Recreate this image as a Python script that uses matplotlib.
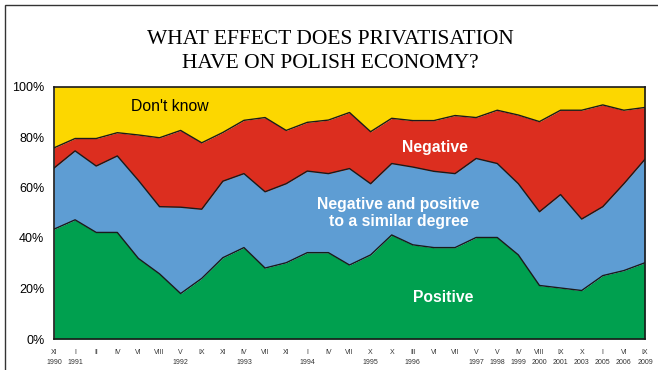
import matplotlib.pyplot as plt
import numpy as np
from matplotlib.patches import Rectangle

months = ['XI', 'I', 'II', 'IV', 'VI', 'VIII', 'V', 'IX', 'XI', 'IV', 'VII', 'XI', 'I', 'IV', 'VII',
          'X', 'X', 'III', 'VI', 'VII', 'V', 'V', 'IV', 'VIII', 'IX', 'X', 'I', 'VI', 'IX']
years = ['1990', '1991', '', '', '', '', '1992', '', '', '1993', '', '', '1994', '', '',
         '1995', '', '1996', '', '', '1997', '1998', '1999', '2000', '2001', '2003', '2005', '2006', '2009']

positive = [43.5, 47.2, 42.2, 42.2, 31.9, 25.8, 18.0, 24.0, 32.2, 36.2, 28.1, 30.2, 34.2, 34.2, 29.3,
            33.3, 41.2, 37.3, 36.2, 36.2, 40.2, 40.2, 33.3, 21.2, 20.2, 19.2, 25.1, 27.1, 30.2]
# cumulative top of "negative and positive" band
mixed_top = [67.7, 74.5, 68.5, 72.5, 62.8, 52.4, 52.2, 51.4, 62.5, 65.5, 58.3, 61.5, 66.5, 65.5, 67.5,
             61.5, 69.5, 68.1, 66.4, 65.5, 71.5, 69.5, 61.5, 50.4, 57.2, 47.5, 52.4, 61.5, 71.2]
# cumulative top of "negative" band
negative_top = [75.7, 79.4, 79.4, 81.7, 80.8, 79.7, 82.6, 77.7, 81.8, 86.6, 87.7, 82.6, 85.8, 86.7, 89.7,
                82.1, 87.4, 86.5, 86.5, 88.5, 87.7, 90.6, 88.7, 86.1, 90.6, 90.6, 92.7, 90.6, 91.7]

green = '#00A04F'
blue = '#5E9DD3'
red = '#DC2E1F'
yellow = '#FCD700'

x = np.arange(len(months))
zero = np.zeros(len(x))
hundred = np.full(len(x), 100.0)

fig = plt.figure(figsize=(6.58, 3.70), dpi=100)
ax = fig.add_axes([54/658, 1-339/370, (645-54)/658, (339-86.5)/370])

ax.fill_between(x, zero, positive, color=green, lw=0)
ax.fill_between(x, positive, mixed_top, color=blue, lw=0)
ax.fill_between(x, mixed_top, negative_top, color=red, lw=0)
ax.fill_between(x, negative_top, hundred, color=yellow, lw=0)
for line in [positive, mixed_top, negative_top]:
    ax.plot(x, line, color='#1a1a1a', lw=1)

sans = 'Liberation Sans'
ax.set_xlim(0, len(x) - 1)
ax.set_ylim(0, 100)
ax.set_yticks([0, 20, 40, 60, 80, 100])
ax.set_yticklabels(['0%', '20%', '40%', '60%', '80%', '100%'], fontsize=9, family=sans)
ax.set_xticks(x)
ax.set_xticklabels([m + ('\n' + y if y else '') for m, y in zip(months, years)],
                   fontsize=5, family=sans, color='#333333', linespacing=1.7)
ax.tick_params(axis='both', length=0)
ax.tick_params(axis='y', pad=7)
ax.tick_params(axis='x', pad=7)
for s in ax.spines.values():
    s.set_linewidth(1.2)
    s.set_color('#1a1a1a')

ax.text(5.5, 92, "Don't know", fontsize=11.3, family=sans, color='black', ha='center', va='center')
ax.text(18.03, 75.8, 'Negative', fontsize=11.3, family=sans, color='white', weight='bold',
        ha='center', va='center')
ax.text(16.33, 50, 'Negative and positive\nto a similar degree', fontsize=11.3, family=sans, color='white',
        weight='bold', ha='center', va='center', linespacing=1.15)
ax.text(18.46, 16.4, 'Positive', fontsize=11.3, family=sans, color='white', weight='bold',
        ha='center', va='center')

fig.text(0.502, 1-51.5/370, 'WHAT EFFECT DOES PRIVATISATION\nHAVE ON POLISH ECONOMY?', fontsize=15.5,
         family='Liberation Serif', ha='center', va='center', linespacing=1.3)

# page frame (only left and top edges visible in the crop)
fig.add_artist(Rectangle((5/658, -0.1), 1.1, 1.1 - 5/370, transform=fig.transFigure,
                         fill=False, edgecolor='#333333', lw=1))

fig.savefig('out.png', dpi=100)
